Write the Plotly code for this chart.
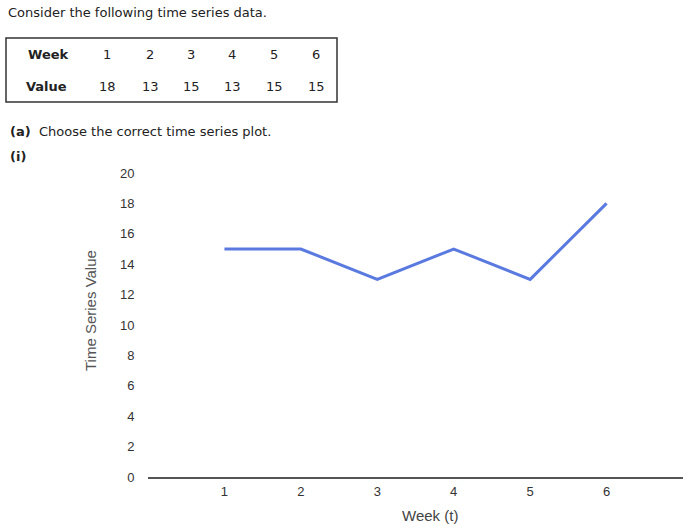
import plotly.graph_objects as go

# Table data
weeks = [1, 2, 3, 4, 5, 6]
table_values = [18, 13, 15, 13, 15, 15]

# Plotted series for option (i)
plot_weeks = [1, 2, 3, 4, 5, 6]
plot_values = [15, 15, 13, 15, 13, 18]

y_ticks = [0, 2, 4, 6, 8, 10, 12, 14, 16, 18, 20]

W, H = 700, 532
L, R, T, B = 148, 683, 173, 477


def px(x):
    return (x - L) / (R - L)


def py(y):
    return (B - y) / (B - T)


TEXT_FONT = "DejaVu Sans, Verdana, sans-serif"
AXIS_FONT = "Liberation Sans, Arial, sans-serif"

fig = go.Figure()
fig.add_trace(go.Scatter(
    x=plot_weeks, y=plot_values, mode="lines",
    line=dict(color="#5A7AE0", width=3),
    hoverinfo="skip", showlegend=False,
))

annotations = []


def txt(x, y, s, size=12, bold=False, xanchor="left", color="#222222", font=TEXT_FONT, angle=0):
    annotations.append(dict(
        x=px(x), y=py(y), xref="paper", yref="paper", text=("<b>%s</b>" % s) if bold else s,
        showarrow=False, xanchor=xanchor, yanchor="middle", textangle=angle,
        font=dict(family=font, size=size, color=color),
    ))


txt(6, 12, "Consider the following time series data.", size=13)
txt(26, 54, "Week", size=13, bold=True)
txt(24, 86, "Value", size=13, bold=True)
col_x = [107, 150, 191, 232, 274, 316]
for cx, w, v in zip(col_x, weeks, table_values):
    txt(cx, 54, str(w), size=13, xanchor="center")
    txt(cx, 86, str(v), size=13, xanchor="center")
txt(8, 131, "<b>(a)</b>  Choose the correct time series plot.", size=13)
txt(8, 156, "<b>(i)</b>", size=13)

# Axis titles (positioned as in the reference)
txt(90, 311, "Time Series Value", size=15, xanchor="center", color="#555555", font=AXIS_FONT, angle=-90)
txt(430, 515, "Week (t)", size=15, xanchor="center", color="#444444", font=AXIS_FONT)

shapes = [dict(type="rect", xref="paper", yref="paper",
               x0=px(6), x1=px(337), y0=py(38), y1=py(102),
               line=dict(color="#333333", width=1.5), fillcolor="rgba(0,0,0,0)")]

fig.update_layout(
    width=W, height=H,
    margin=dict(l=L, r=W - R, t=T, b=H - B, pad=0),
    paper_bgcolor="white", plot_bgcolor="white",
    annotations=annotations, shapes=shapes,
    xaxis=dict(
        range=[0, 7], tickvals=weeks, showgrid=False, zeroline=False,
        showline=True, linecolor="#555555", linewidth=2,
        ticks="outside", ticklen=1, tickcolor="rgba(0,0,0,0)",
        tickfont=dict(family=AXIS_FONT, size=13, color="#333333"),
        fixedrange=True,
    ),
    yaxis=dict(
        range=[0, 20], tickvals=y_ticks, showgrid=False, zeroline=False,
        showline=False, ticks="outside", ticklen=10, tickcolor="rgba(0,0,0,0)",
        tickfont=dict(family=AXIS_FONT, size=13, color="#333333"),
        fixedrange=True,
    ),
)

fig.write_html("out.html", post_script="document.body.style.margin='0';",
               config={"displayModeBar": False})
